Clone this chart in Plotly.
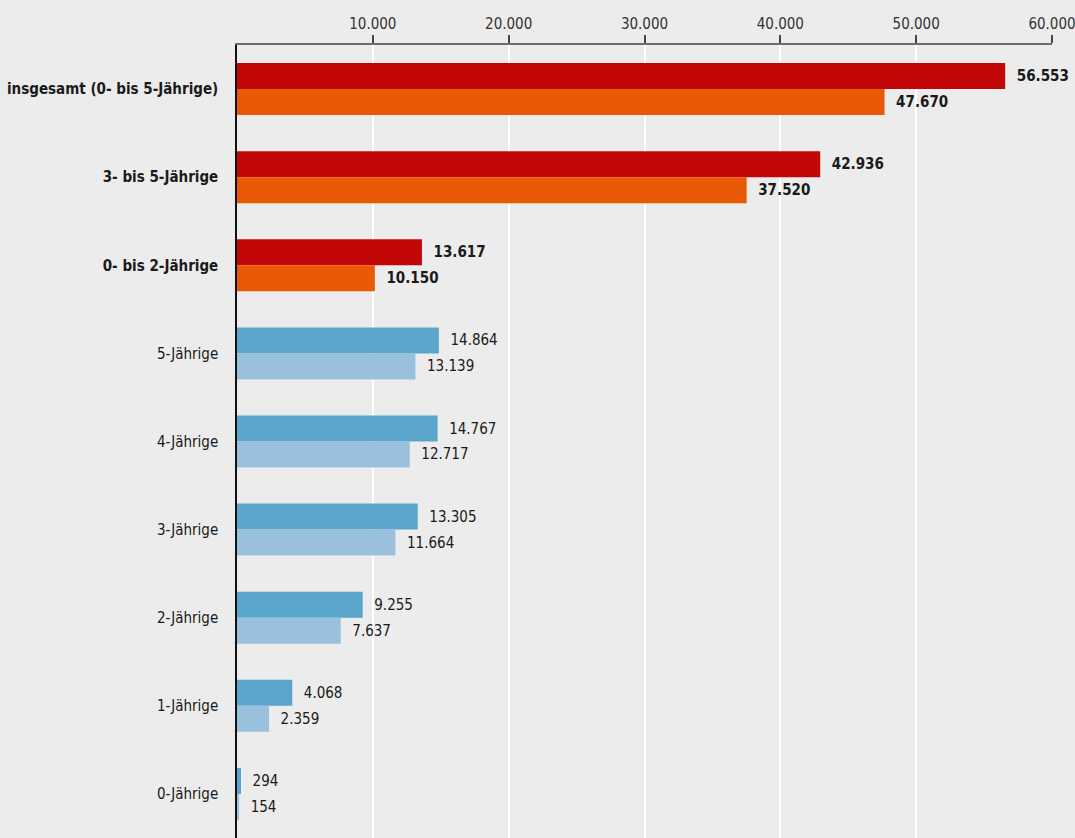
import plotly.graph_objects as go

categories = ["insgesamt (0- bis 5-Jährige)", "3- bis 5-Jährige", "0- bis 2-Jährige",
              "5-Jährige", "4-Jährige", "3-Jährige", "2-Jährige", "1-Jährige", "0-Jährige"]
series_a = [56553, 42936, 13617, 14864, 14767, 13305, 9255, 4068, 294]
series_b = [47670, 37520, 10150, 13139, 12717, 11664, 7637, 2359, 154]
bold_rows = [True, True, True, False, False, False, False, False, False]
tick_values = [10000, 20000, 30000, 40000, 50000, 60000]

colors_a = ["#c10707" if b else "#5aa5cb" for b in bold_rows]
colors_b = ["#ea5906" if b else "#99c1de" for b in bold_rows]
tmpl = ["\u00a0\u00a0<b>%{x:,d}</b>" if b else "\u00a0\u00a0%{x:,d}" for b in bold_rows]
ylabels = [f"<b>{c}</b>" if b else c for c, b in zip(categories, bold_rows)]

FONT = "DejaVu Sans Condensed, Roboto, sans-serif"
FS = 15

fig = go.Figure()
for vals, cols in ((series_a, colors_a), (series_b, colors_b)):
    fig.add_trace(go.Bar(
        y=ylabels, x=vals, orientation="h",
        marker=dict(color=cols, line=dict(width=0)),
        texttemplate=tmpl, textposition="outside", cliponaxis=False,
        textfont=dict(family=FONT, size=FS, color="#1a1a1a"),
        hoverinfo="skip",
    ))

fig.update_layout(
    width=1075, height=838,
    margin=dict(l=237, r=23, t=45, b=0, autoexpand=False),
    paper_bgcolor="#ececec", plot_bgcolor="#ececec",
    barmode="group", bargap=0.41, bargroupgap=0,
    showlegend=False, separators=",.",
    font=dict(family=FONT, size=FS, color="#1a1a1a"),
)
fig.update_xaxes(
    range=[0, 60000], side="top", tickvals=tick_values, tickformat=",d",
    showgrid=True, gridcolor="#ffffff", gridwidth=1.5,
    showline=True, linecolor="#6e6e6e", linewidth=1.5,
    ticks="outside", ticklen=8, tickcolor="#444444", tickwidth=1.5,
    zeroline=False, automargin=False, ticklabeloverflow="allow",
    tickfont=dict(size=FS, color="#333333"),
)
fig.update_yaxes(
    autorange="reversed", showline=True, linecolor="#111111", linewidth=1.5,
    ticks="", ticklabelstandoff=14, showgrid=False, automargin=False,
    tickfont=dict(size=FS, color="#1a1a1a"),
)
fig.write_html("out.html", config={"displayModeBar": False},
               post_script="document.body.style.margin='0';")
